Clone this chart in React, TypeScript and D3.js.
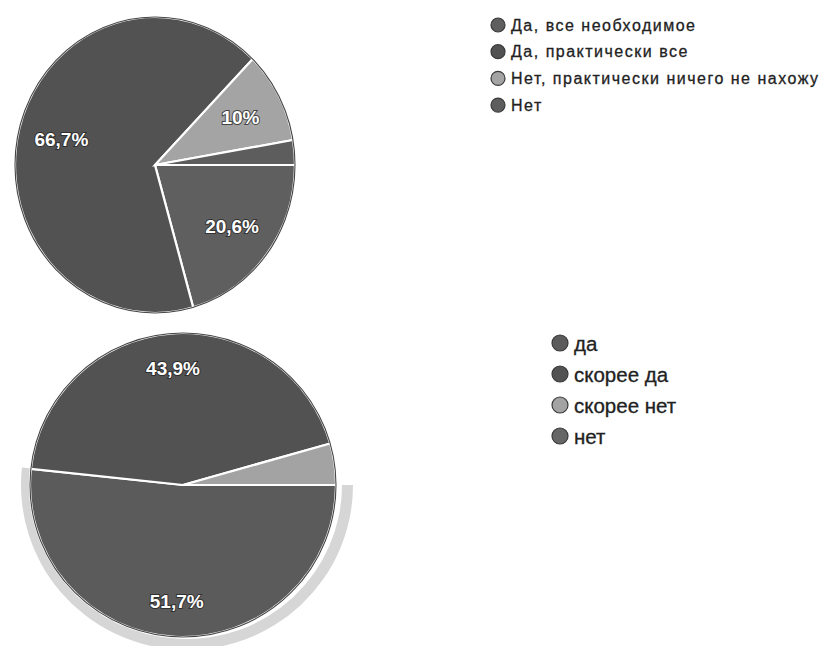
import React from "react";
import * as d3 from "d3";

// Survey 1: availability of needed materials
const topCategories = [
  "Да, все необходимое",
  "Да, практически все",
  "Нет, практически ничего не нахожу",
  "Нет",
];
const topValues = [20.6, 66.7, 10, 2.7];
const topColors = ["#5f5f5f", "#525252", "#a4a4a4", "#5d5d5d"];

// Survey 2: yes / no scale
const bottomCategories = ["да", "скорее да", "скорее нет", "нет"];
const bottomValues = [51.7, 43.9, 4.4, 0];
const bottomColors = ["#5b5b5b", "#525252", "#a3a3a3", "#666666"];

const W = 824;
const H = 646;

const fmtPct = (v: number) =>
  (Number.isInteger(v) ? String(v) : v.toFixed(1).replace(".", ",")) + "%";

type PieProps = {
  cx: number;
  cy: number;
  rx: number;
  ry: number;
  values: number[];
  colors: string[];
  labelK: number;
  highlight?: number;
};

function PieChart({ cx, cy, rx, ry, values, colors, labelK, highlight }: PieProps) {
  const slices = d3
    .pie<number>()
    .sort(null)
    .value((d) => d)
    .startAngle(Math.PI / 2)
    .endAngle(Math.PI / 2 + 2 * Math.PI)(values);
  const arc = d3.arc<d3.PieArcDatum<number>>().innerRadius(0).outerRadius(rx);
  const ringArc = d3.arc<d3.PieArcDatum<number>>().innerRadius(rx + 2).outerRadius(rx + 13);
  const sy = ry / rx;
  const hl = highlight != null ? slices[highlight] : null;

  return (
    <g>
      <g transform={`translate(${cx},${cy}) scale(1,${sy})`}>
        {hl && <path d={ringArc(hl) || ""} transform="translate(4,0)" fill="#d6d6d6" />}
        {slices
          .filter((s) => s.value > 0)
          .map((s, i) => (
            <path
              key={i}
              d={arc(s) || ""}
              fill={colors[s.index]}
              stroke="#ffffff"
              strokeWidth={2.2}
              vectorEffect="non-scaling-stroke"
            />
          ))}
        <circle r={rx} fill="none" stroke="#262626" strokeWidth={1.1} vectorEffect="non-scaling-stroke" opacity={0.85} />
      </g>
      {slices
        .filter((s) => s.value >= 5)
        .map((s, i) => {
          const mid = (s.startAngle + s.endAngle) / 2;
          const x = cx + labelK * rx * Math.sin(mid);
          const y = cy - labelK * ry * Math.cos(mid);
          return (
            <text
              key={i}
              x={x}
              y={y}
              textAnchor="middle"
              dominantBaseline="central"
              fontFamily="Arial, 'Liberation Sans', sans-serif"
              fontWeight="bold"
              fontSize={19}
              fill="#ffffff"
              stroke="rgba(35,35,35,0.75)"
              strokeWidth={2}
              paintOrder="stroke"
            >
              {fmtPct(s.value)}
            </text>
          );
        })}
    </g>
  );
}

type LegendProps = {
  x: number;
  y: number;
  step: number;
  r: number;
  items: string[];
  colors: string[];
  fontSize: number;
  spacing: number;
};

function Legend({ x, y, step, r, items, colors, fontSize, spacing }: LegendProps) {
  return (
    <g>
      {items.map((name, i) => (
        <g key={name} transform={`translate(${x},${y + i * step})`}>
          <circle r={r} fill={colors[i]} stroke="#3a3a3a" strokeWidth={1.2} />
          <text
            x={r + 6}
            y={0}
            dominantBaseline="central"
            fontFamily="Arial, 'Liberation Sans', sans-serif"
            fontSize={fontSize}
            letterSpacing={spacing}
            fill="#222222"
            stroke="#222222"
            strokeWidth={0.3}
          >
            {name}
          </text>
        </g>
      ))}
    </g>
  );
}

export default function App() {
  return (
    <svg
      width={W}
      height={H}
      style={{ position: "absolute", left: 0, top: 0, background: "#ffffff" }}
    >
      <rect width={W} height={H} fill="#ffffff" />
      <PieChart cx={155} cy={165} rx={140} ry={148} values={topValues} colors={topColors} labelK={0.69} />
      <Legend
        x={498}
        y={25}
        step={26.7}
        r={7}
        items={topCategories}
        colors={topColors}
        fontSize={16}
        spacing={1.5}
      />
      <PieChart
        cx={183}
        cy={485}
        rx={153}
        ry={152}
        values={bottomValues}
        colors={bottomColors}
        labelK={0.77}
        highlight={0}
      />
      <Legend
        x={560}
        y={343}
        step={31}
        r={8}
        items={bottomCategories}
        colors={bottomColors}
        fontSize={20.5}
        spacing={0}
      />
    </svg>
  );
}
